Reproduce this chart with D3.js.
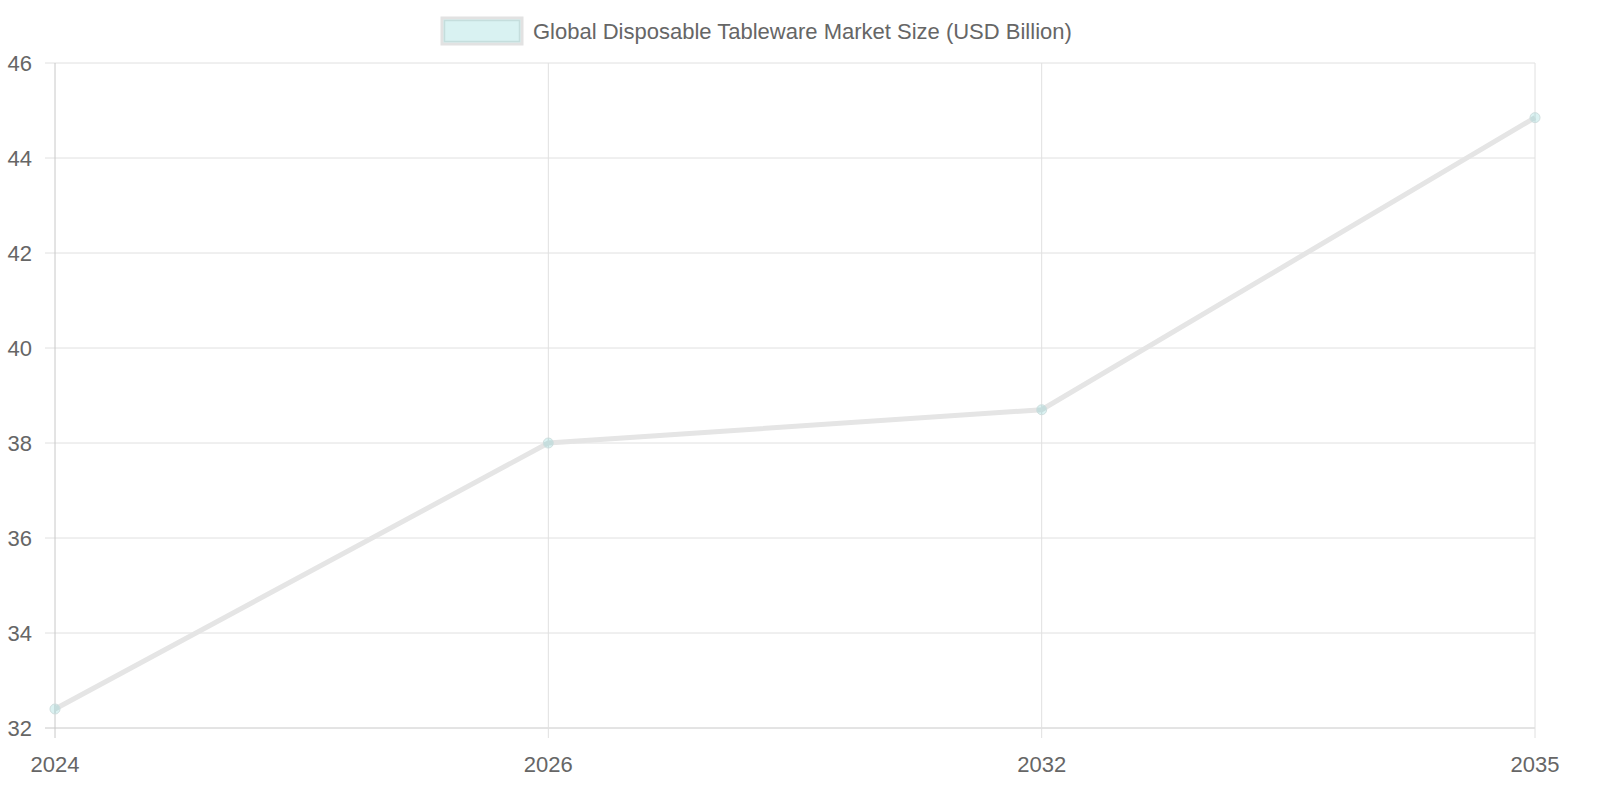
<!DOCTYPE html>
<html><head><meta charset="utf-8">
<script src="https://cdn.jsdelivr.net/npm/d3@7"></script>
<style>body{margin:0;background:#fff}text{font-family:"Liberation Sans",Arial,sans-serif;fill:#666}</style>
</head><body><svg id="chart" width="1600" height="800"></svg>
<script>
const years = ["2024", "2026", "2032", "2035"];
const marketSize = [32.4, 38.0, 38.7, 44.85];
const yTicks = [32, 34, 36, 38, 40, 42, 44, 46];
const seriesLabel = "Global Disposable Tableware Market Size (USD Billion)";

const svg = d3.select("#chart");
const plotLeft = 55, plotRight = 1535, plotTop = 63, plotBottom = 728;

const x = d3.scalePoint().domain(years).range([plotLeft, plotRight]);
const y = d3.scaleLinear().domain([32, 46]).range([plotBottom, plotTop]);

// grid
svg.append("g").selectAll("line").data(yTicks).join("line")
  .attr("x1", plotLeft - 10).attr("x2", plotRight)
  .attr("y1", d => y(d)).attr("y2", d => y(d))
  .attr("stroke", d => d === 32 ? "#c8c8c8" : "#e0e0e0").attr("stroke-width", 1);
svg.append("g").selectAll("line").data(years).join("line")
  .attr("x1", d => x(d)).attr("x2", d => x(d))
  .attr("y1", plotTop).attr("y2", plotBottom + 10)
  .attr("stroke", (d, i) => i === 0 ? "#c8c8c8" : "#e0e0e0").attr("stroke-width", 1);

// tick labels
svg.append("g").selectAll("text").data(yTicks).join("text")
  .attr("x", 32).attr("y", d => y(d) + 8)
  .attr("text-anchor", "end").attr("font-size", 22).text(d => d);
svg.append("g").selectAll("text").data(years).join("text")
  .attr("x", d => x(d)).attr("y", 772)
  .attr("text-anchor", "middle").attr("font-size", 22).text(d => d);

// line
const line = d3.line().x((d, i) => x(years[i])).y(d => y(d));
svg.append("path").datum(marketSize)
  .attr("d", line).attr("fill", "none")
  .attr("stroke", "#e5e5e5").attr("stroke-width", 5);

svg.append("g").selectAll("circle").data(marketSize).join("circle")
  .attr("cx", (d, i) => x(years[i])).attr("cy", d => y(d)).attr("r", 5)
  .attr("fill", "rgba(75,192,192,0.2)").attr("stroke", "#cfdede").attr("stroke-width", 1);

// legend
svg.append("rect").attr("x", 442).attr("y", 18).attr("width", 80).attr("height", 26)
  .attr("fill", "#d9f2f2").attr("stroke", "#e2e2e2").attr("stroke-width", 3);
svg.append("rect").attr("x", 444.5).attr("y", 20.5).attr("width", 75).attr("height", 21)
  .attr("fill", "none").attr("stroke", "#c5dedd").attr("stroke-width", 1.5);
svg.append("text").attr("x", 533).attr("y", 39).attr("font-size", 22).text(seriesLabel);
</script></body></html>
